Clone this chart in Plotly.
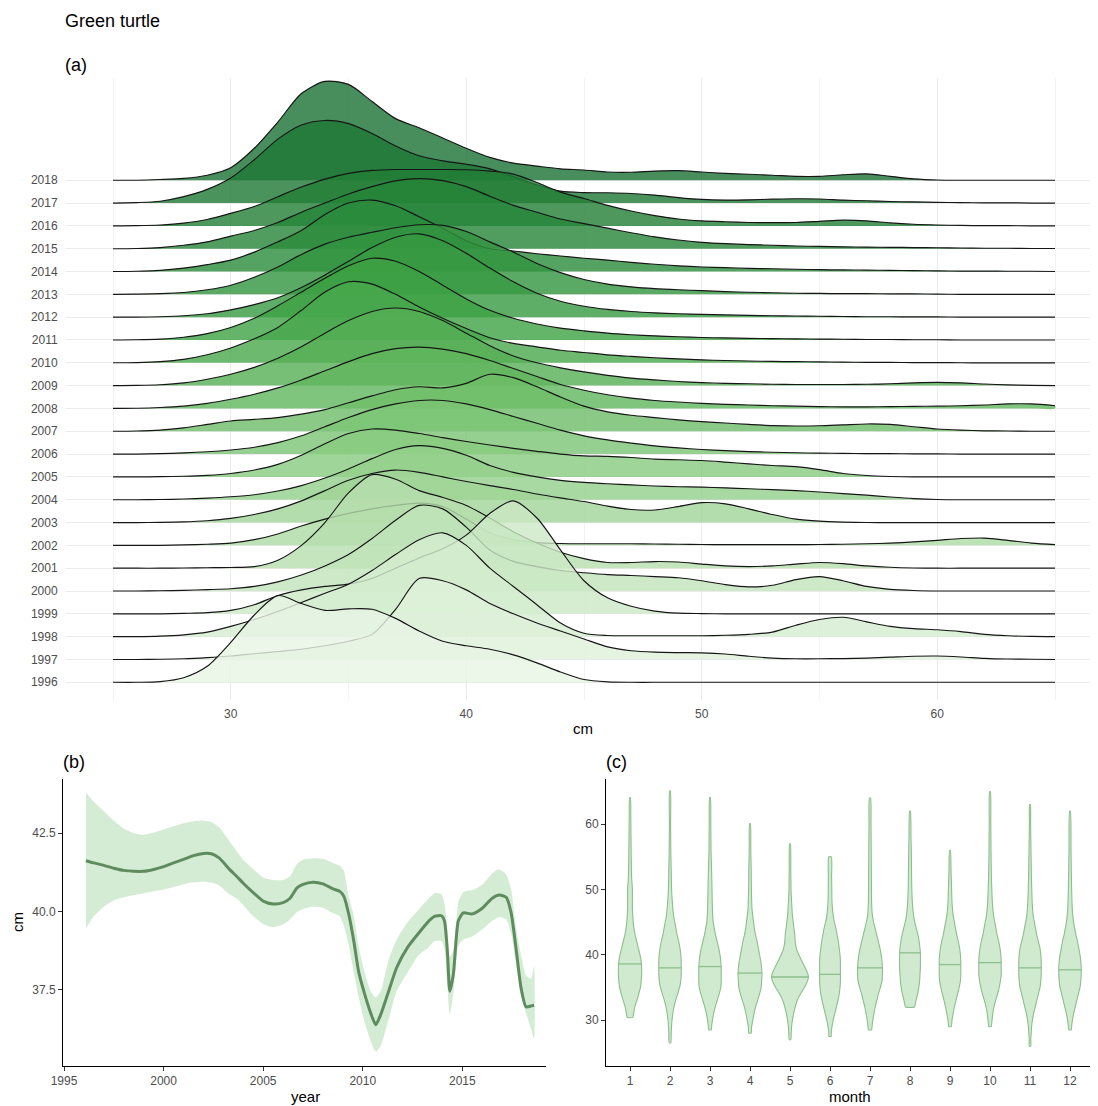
import numpy as np
import plotly.graph_objects as go

# ---------------- Panel (a): ridgeline heights (in row units) on a 1-cm grid ----------------
cm_grid = list(range(25, 66))
ridge_years = list(range(1996, 2019))

d1996 = [0,0,0.03,0.2,0.7,1.75,2.95,3.8,3.45,3.15,3.22,3.2,2.8,2.25,1.8,1.6,1.45,1.2,0.85,0.45,0.12,0.02,0,0,0,0,0,0,0,0,0,0,0,0,0,0,0,0,0,0,0]
d1997 = [0,0,0.01,0.03,0.08,0.15,0.25,0.35,0.45,0.6,0.8,1.1,2.2,3.55,3.45,3.05,2.45,2.0,1.6,1.25,0.9,0.55,0.38,0.32,0.3,0.29,0.24,0.14,0.06,0.03,0.03,0.04,0.06,0.1,0.14,0.15,0.11,0.05,0.02,0.01,0]
d1998 = [0,0,0.02,0.08,0.2,0.45,0.75,1.1,1.5,1.9,2.3,2.9,3.6,4.25,4.55,4.0,3.0,2.2,1.4,0.6,0.15,0.05,0.04,0.04,0.04,0.04,0.06,0.1,0.2,0.5,0.75,0.85,0.65,0.45,0.35,0.3,0.22,0.1,0.04,0.01,0]
d1999 = [0,0,0,0.02,0.05,0.15,0.4,0.8,1.05,1.2,1.3,1.55,2.0,2.45,2.85,3.45,4.4,4.95,4.2,2.8,1.45,0.7,0.33,0.12,0.03,0.01,0,0,0,0,0,0,0,0,0,0,0,0,0,0,0]
d2000 = [0,0,0.01,0.03,0.06,0.1,0.2,0.4,0.7,1.1,1.6,2.3,3.1,3.75,3.6,2.8,1.8,1.3,1.07,0.9,0.8,0.72,0.68,0.63,0.58,0.45,0.28,0.18,0.25,0.5,0.63,0.45,0.2,0.07,0.02,0,0,0,0,0,0]
d2001 = [0,0,0,0.01,0.02,0.03,0.07,0.35,1.0,2.0,3.3,4.1,3.9,3.4,3.1,2.75,2.2,1.6,1.1,0.7,0.42,0.25,0.25,0.29,0.27,0.18,0.1,0.07,0.1,0.18,0.25,0.2,0.1,0.04,0.01,0,0,0,0,0,0]
d2002 = [0,0,0,0.02,0.05,0.1,0.25,0.5,0.85,1.15,1.4,1.6,1.75,1.85,1.7,1.15,0.55,0.25,0.12,0.08,0.07,0.07,0.07,0.06,0.05,0.04,0.03,0.03,0.03,0.03,0.04,0.05,0.07,0.1,0.15,0.22,0.3,0.32,0.22,0.1,0.03]
d2003 = [0,0,0.01,0.03,0.08,0.18,0.35,0.6,0.95,1.4,1.85,2.15,2.3,2.2,2.0,1.8,1.62,1.45,1.25,1.08,0.92,0.72,0.57,0.55,0.7,0.87,0.82,0.6,0.35,0.15,0.06,0.02,0,0,0,0,0,0,0,0,0]
d2004 = [0,0,0.01,0.03,0.07,0.13,0.22,0.38,0.62,0.95,1.35,1.8,2.2,2.37,2.25,1.95,1.5,1.2,1.0,0.85,0.76,0.7,0.65,0.6,0.57,0.55,0.52,0.48,0.44,0.4,0.34,0.27,0.2,0.12,0.05,0.01,0,0,0,0,0]
d2005 = [0,0,0.01,0.03,0.07,0.15,0.3,0.55,0.95,1.45,1.9,2.1,2.05,1.9,1.72,1.55,1.4,1.25,1.12,1.0,0.92,0.9,0.85,0.78,0.75,0.72,0.65,0.57,0.5,0.45,0.32,0.15,0.06,0.02,0,0,0,0,0,0,0]
d2006 = [0,0,0.02,0.05,0.1,0.18,0.3,0.5,0.8,1.2,1.6,1.95,2.2,2.35,2.35,2.2,1.95,1.65,1.35,1.05,0.8,0.62,0.48,0.36,0.27,0.2,0.15,0.11,0.08,0.06,0.04,0.03,0.02,0.02,0.01,0.01,0,0,0,0,0]
d2007 = [0,0.01,0.05,0.15,0.3,0.45,0.52,0.6,0.75,0.95,1.25,1.55,1.82,1.95,1.9,2.1,2.5,2.35,1.95,1.5,1.1,0.85,0.7,0.6,0.5,0.42,0.36,0.3,0.25,0.23,0.24,0.28,0.32,0.3,0.2,0.1,0.05,0.02,0.01,0,0]
d2008 = [0,0.01,0.04,0.1,0.22,0.4,0.62,0.9,1.25,1.65,2.05,2.4,2.62,2.69,2.6,2.4,2.1,1.75,1.4,1.05,0.8,0.6,0.45,0.35,0.28,0.22,0.18,0.15,0.12,0.1,0.08,0.07,0.07,0.08,0.09,0.1,0.12,0.15,0.2,0.2,0.12]
d2009 = [0,0.01,0.04,0.12,0.28,0.5,0.8,1.2,1.7,2.3,2.85,3.25,3.4,3.25,2.85,2.3,1.75,1.3,1.0,0.78,0.6,0.45,0.33,0.25,0.18,0.13,0.1,0.08,0.06,0.05,0.05,0.05,0.06,0.08,0.12,0.14,0.12,0.07,0.03,0.01,0]
d2010 = [0,0.01,0.05,0.15,0.35,0.65,1.05,1.55,2.3,3.1,3.55,3.45,3.0,2.45,1.95,1.5,1.1,0.85,0.7,0.55,0.45,0.35,0.28,0.22,0.17,0.13,0.1,0.08,0.06,0.05,0.04,0.03,0.02,0.02,0.01,0.01,0,0,0,0,0]
d2011 = [0,0.01,0.04,0.12,0.28,0.55,0.95,1.5,2.1,2.7,3.25,3.58,3.45,3.0,2.4,1.8,1.3,0.95,0.7,0.52,0.4,0.3,0.23,0.18,0.14,0.11,0.09,0.07,0.06,0.05,0.04,0.03,0.02,0.02,0.01,0.01,0,0,0,0,0]
d2012 = [0,0,0.02,0.06,0.15,0.32,0.55,0.85,1.3,1.85,2.45,3.05,3.5,3.65,3.35,2.8,2.15,1.55,1.05,0.7,0.48,0.34,0.25,0.19,0.15,0.12,0.1,0.08,0.06,0.05,0.04,0.03,0.02,0.02,0.01,0.01,0,0,0,0,0]
d2013 = [0,0.01,0.03,0.08,0.2,0.4,0.75,1.2,1.75,2.2,2.5,2.72,2.92,3.05,3.02,2.75,2.3,1.85,1.35,0.95,0.65,0.45,0.33,0.25,0.2,0.16,0.12,0.09,0.07,0.05,0.04,0.03,0.03,0.02,0.02,0.01,0,0,0,0,0]
d2014 = [0,0.01,0.05,0.15,0.3,0.5,0.85,1.3,1.8,2.5,3.0,3.13,2.88,2.4,1.9,1.35,1.0,0.9,0.78,0.68,0.58,0.5,0.4,0.32,0.25,0.2,0.17,0.14,0.12,0.1,0.08,0.07,0.06,0.05,0.04,0.03,0.02,0.02,0.01,0.01,0]
d2015 = [0,0.01,0.05,0.15,0.3,0.55,0.8,1.15,1.6,2.0,2.4,2.72,2.97,3.07,2.98,2.72,2.3,1.9,1.6,1.3,1.1,0.9,0.7,0.52,0.38,0.28,0.22,0.18,0.15,0.12,0.1,0.08,0.07,0.06,0.05,0.04,0.03,0.02,0.02,0.01,0.01]
d2016 = [0,0.01,0.04,0.12,0.28,0.55,0.85,1.28,1.7,2.05,2.3,2.43,2.47,2.47,2.47,2.46,2.4,2.27,1.9,1.48,1.2,0.9,0.65,0.45,0.3,0.22,0.18,0.15,0.14,0.15,0.2,0.25,0.22,0.13,0.07,0.04,0.02,0.01,0.01,0,0]
d2017 = [0,0.02,0.08,0.28,0.6,1.1,1.9,2.8,3.42,3.62,3.48,3.05,2.5,2.07,1.85,1.7,1.5,1.15,0.8,0.52,0.46,0.45,0.42,0.35,0.24,0.16,0.13,0.14,0.17,0.19,0.18,0.13,0.1,0.07,0.05,0.03,0.02,0.01,0.01,0,0]
d2018 = [0,0,0.03,0.08,0.22,0.55,1.4,2.55,3.8,4.33,4.2,3.45,2.7,2.3,1.85,1.4,1.0,0.75,0.62,0.5,0.45,0.36,0.35,0.4,0.42,0.36,0.3,0.26,0.22,0.17,0.17,0.24,0.28,0.17,0.06,0.01,0,0,0,0,0]

ridge_data = [d1996, d1997, d1998, d1999, d2000, d2001, d2002, d2003, d2004, d2005, d2006,
              d2007, d2008, d2009, d2010, d2011, d2012, d2013, d2014, d2015, d2016, d2017, d2018]

# ---------------- Panel (b): smoothed mean size by year ----------------
gam_year = [1996.1,1996.5,1997.0,1997.5,1998.0,1998.5,1999.0,1999.5,2000.0,2000.5,2001.0,2001.5,2002.0,2002.4,
            2002.8,2003.3,2003.7,2004.0,2004.5,2005.0,2005.5,2006.0,2006.35,2006.7,2007.0,2007.5,2008.0,2008.5,
            2008.85,2009.05,2009.3,2009.55,2009.8,2010.1,2010.4,2010.65,2010.9,2011.3,2011.7,2012.25,2012.8,
            2013.3,2013.6,2013.95,2014.1,2014.25,2014.37,2014.55,2014.8,2015.05,2015.5,2016.0,2016.5,2016.85,
            2017.2,2017.45,2017.7,2017.95,2018.2,2018.45,2018.6]
gam_mean = [41.62,41.55,41.47,41.38,41.31,41.28,41.28,41.34,41.43,41.55,41.66,41.78,41.85,41.84,
            41.70,41.35,41.10,40.90,40.60,40.33,40.24,40.28,40.42,40.75,40.86,40.93,40.88,40.72,
            40.64,40.48,39.90,39.05,38.05,37.35,36.75,36.38,36.70,37.45,38.20,38.85,39.30,
            39.68,39.84,39.86,39.70,38.70,37.45,38.00,39.70,39.95,39.92,40.10,40.42,40.52,
            40.45,39.95,38.80,37.55,36.95,36.98,37.00]
gam_lo = [39.45,39.85,40.15,40.35,40.45,40.52,40.58,40.64,40.70,40.78,40.87,40.93,40.95,40.92,
          40.82,40.55,40.40,40.20,39.85,39.60,39.50,39.58,39.74,39.98,40.08,40.15,40.12,39.95,
          39.84,39.55,38.90,38.05,37.25,36.45,35.85,35.52,35.70,36.55,37.45,38.05,38.60,
          38.85,39.05,39.05,38.80,37.60,36.70,37.40,38.90,39.10,39.20,39.42,39.70,39.82,
          39.75,39.30,38.30,37.30,36.75,36.25,35.92]
gam_hi = [43.80,43.50,43.20,42.90,42.65,42.50,42.45,42.52,42.62,42.72,42.82,42.88,42.90,42.86,
          42.68,42.25,41.90,41.65,41.35,41.08,41.00,41.00,41.12,41.52,41.65,41.70,41.68,41.55,
          41.45,41.30,40.45,39.85,38.85,38.05,37.45,37.25,37.45,38.45,39.10,39.65,40.05,
          40.40,40.58,40.55,40.25,39.40,38.55,38.75,40.30,40.62,40.68,40.85,41.22,41.35,
          41.18,40.70,39.45,38.60,37.95,37.85,38.25]

# ---------------- Panel (c): violin profiles by month (cm, half-width in month units) ----------------
months = list(range(1, 13))
m1_cm = [30.4,31,32,33,34,35,36,37,38,39,40,41,42,43,44,45,46,47,48,50,52,55,58,61,64.1]
m1_hw = [0.07,0.09,0.12,0.17,0.22,0.26,0.28,0.29,0.29,0.28,0.25,0.21,0.17,0.13,0.1,0.08,0.07,0.06,0.06,0.06,0.04,0.03,0.025,0.02,0.01]
m2_cm = [26.5,28,30,32,33,34,35,36,37,38,39,40,41,42,43,44,45,46,48,50,53,56,60,65.1]
m2_hw = [0.02,0.03,0.05,0.1,0.14,0.19,0.24,0.27,0.28,0.28,0.28,0.27,0.25,0.22,0.18,0.15,0.12,0.09,0.06,0.04,0.03,0.02,0.015,0.01]
m3_cm = [28.5,29,30,31,32,33,34,35,36,37,38,39,40,41,42,43,44,45,47,50,53,56,60,64.1]
m3_hw = [0.03,0.04,0.06,0.09,0.13,0.18,0.23,0.27,0.28,0.28,0.28,0.27,0.25,0.22,0.18,0.14,0.11,0.08,0.06,0.05,0.04,0.025,0.02,0.01]
m4_cm = [28,29,30,31,32,33,34,35,36,37,38,39,40,41,42,43,44,45,47,50,53,56,60.1]
m4_hw = [0.03,0.04,0.07,0.1,0.14,0.19,0.24,0.28,0.29,0.3,0.29,0.27,0.24,0.21,0.18,0.14,0.11,0.09,0.05,0.035,0.03,0.02,0.01]
m5_cm = [27,28,29,30,31,32,33,34,35,36,36.6,37,38,39,40,41,42,43,44,45,46,47,48,50,53,57]
m5_hw = [0.02,0.03,0.04,0.06,0.09,0.13,0.18,0.26,0.36,0.44,0.46,0.45,0.38,0.3,0.22,0.16,0.13,0.12,0.1,0.08,0.06,0.05,0.04,0.025,0.02,0.01]
m6_cm = [27.5,28,29,30,31,32,33,34,35,36,37,38,39,40,41,42,43,44,45,46,48,50,52,55]
m6_hw = [0.03,0.03,0.05,0.08,0.12,0.16,0.2,0.23,0.25,0.26,0.26,0.26,0.26,0.25,0.23,0.21,0.18,0.15,0.11,0.08,0.05,0.045,0.04,0.035]
m7_cm = [28.5,29,30,31,32,33,34,35,36,37,38,39,40,41,42,43,44,45,46,48,52,56,60,64]
m7_hw = [0.04,0.05,0.07,0.1,0.13,0.17,0.21,0.26,0.3,0.31,0.31,0.3,0.28,0.25,0.21,0.17,0.13,0.09,0.06,0.04,0.035,0.03,0.025,0.015]
m8_cm = [32,33,34,35,36,37,38,39,40,41,42,43,44,45,46,48,50,52,55,58,62]
m8_hw = [0.11,0.15,0.19,0.22,0.24,0.25,0.26,0.26,0.26,0.25,0.23,0.2,0.16,0.12,0.09,0.06,0.045,0.04,0.035,0.025,0.01]
m9_cm = [29,30,31,32,33,34,35,36,37,38,39,40,41,42,43,44,45,46,48,50,53,56]
m9_hw = [0.03,0.05,0.08,0.11,0.15,0.19,0.23,0.26,0.27,0.27,0.27,0.26,0.24,0.21,0.17,0.14,0.11,0.08,0.05,0.04,0.025,0.01]
m10_cm = [29,30,31,32,33,34,35,36,37,38,39,40,41,42,43,44,45,46,48,52,56,60,65]
m10_hw = [0.03,0.05,0.07,0.1,0.14,0.19,0.23,0.26,0.28,0.28,0.28,0.27,0.25,0.22,0.18,0.15,0.12,0.09,0.06,0.035,0.025,0.02,0.01]
m11_cm = [26,27,28,29,30,31,32,33,34,35,36,37,38,39,40,41,42,43,44,45,46,48,52,56,60,63]
m11_hw = [0.02,0.02,0.03,0.04,0.06,0.09,0.13,0.17,0.21,0.25,0.27,0.28,0.28,0.28,0.27,0.25,0.21,0.17,0.14,0.11,0.08,0.055,0.035,0.025,0.015,0.01]
m12_cm = [28.5,29,30,31,32,33,34,35,36,37,38,39,40,41,42,43,44,45,46,48,52,56,62]
m12_hw = [0.03,0.04,0.06,0.09,0.13,0.17,0.21,0.25,0.27,0.28,0.28,0.27,0.25,0.22,0.19,0.15,0.12,0.09,0.07,0.05,0.035,0.025,0.01]
month_medians = [38.6, 38.0, 38.2, 37.2, 36.6, 37.0, 38.0, 40.3, 38.5, 38.8, 38.0, 37.7]

violin_cm = [m1_cm, m2_cm, m3_cm, m4_cm, m5_cm, m6_cm, m7_cm, m8_cm, m9_cm, m10_cm, m11_cm, m12_cm]
violin_hw = [m1_hw, m2_hw, m3_hw, m4_hw, m5_hw, m6_hw, m7_hw, m8_hw, m9_hw, m10_hw, m11_hw, m12_hw]

# ---------------- styling ----------------
PAGE_OFF = 8                      # browser body margin around the plot div
W, H = 1098 - PAGE_OFF, 1106 - PAGE_OFF
FONT = "Liberation Sans, Arial, Helvetica, sans-serif"
TICK_COL = "#4d4d4d"
ALPHA = 0.8
anchor_years = [1996, 1999, 2002, 2005, 2008, 2011, 2014, 2016, 2018]
anchor_rgb = [(236,246,233), (214,237,209), (188,226,181), (160,213,153), (128,197,125),
              (100,180,105), (85,163,98), (78,152,94), (72,142,92)]


def ridge_fill(year):
    out = []
    for k in range(3):
        disp = np.interp(year, anchor_years, [c[k] for c in anchor_rgb])
        base = (disp - 255 * (1 - ALPHA)) / ALPHA
        out.append(int(round(min(255, max(0, base)))))
    return f"rgba({out[0]},{out[1]},{out[2]},{ALPHA})"


def px_x(p):
    return (p - PAGE_OFF) / W


def px_y(p):
    return 1 - (p - PAGE_OFF) / H


fig = go.Figure()

# Panel (a) ridges, drawn from the top row down so lower rows overlap upper ones
for year, dens in sorted(zip(ridge_years, ridge_data), key=lambda t: -t[0]):
    base = ridge_years.index(year)
    top = [base + h for h in dens]
    fig.add_trace(go.Scatter(
        x=cm_grid + cm_grid[::-1], y=top + [base] * len(cm_grid),
        fill="toself", fillcolor=ridge_fill(year), mode="lines",
        line=dict(width=0, shape="spline", smoothing=0.8),
        hoverinfo="skip", xaxis="x", yaxis="y"))
    fig.add_trace(go.Scatter(
        x=cm_grid, y=top, mode="lines",
        line=dict(color="#161616", width=1.15, shape="spline", smoothing=0.8),
        hoverinfo="skip", xaxis="x", yaxis="y"))

# Panel (b) ribbon + smooth line
fig.add_trace(go.Scatter(
    x=gam_year + gam_year[::-1], y=gam_hi + gam_lo[::-1], fill="toself",
    fillcolor="rgba(120,196,120,0.32)", mode="lines",
    line=dict(width=0, shape="spline", smoothing=0.6), hoverinfo="skip",
    xaxis="x2", yaxis="y2"))
fig.add_trace(go.Scatter(
    x=gam_year, y=gam_mean, mode="lines",
    line=dict(color="#5e8c5e", width=3, shape="spline", smoothing=0.6),
    xaxis="x2", yaxis="y2"))

# Panel (c) violins
for m, cms, hws, med in zip(months, violin_cm, violin_hw, month_medians):
    xs = [m + w for w in hws] + [m - w for w in hws[::-1]]
    ys = cms + cms[::-1]
    fig.add_trace(go.Scatter(
        x=xs + [xs[0]], y=ys + [ys[0]], fill="toself",
        fillcolor="rgba(120,196,120,0.35)", mode="lines",
        line=dict(color="#8cbf8c", width=1.1, shape="spline", smoothing=0.5),
        hoverinfo="skip", xaxis="x3", yaxis="y3"))
    wm = float(np.interp(med, cms, hws))
    fig.add_trace(go.Scatter(
        x=[m - wm, m + wm], y=[med, med], mode="lines",
        line=dict(color="#8cbf8c", width=1.3), hoverinfo="skip",
        xaxis="x3", yaxis="y3"))

# ---------------- axes (pixel positions in the final page) ----------------
a_x0, a_x1, a_y0, a_y1 = 66, 1096, 78, 700
b_x0, b_x1 = 63, 546
c_x0, c_x1 = 606, 1094
bc_y0, bc_y1 = 779, 1066

tickfont = dict(family=FONT, size=12, color=TICK_COL)

fig.update_layout(
    width=W, height=H, showlegend=False,
    paper_bgcolor="white", plot_bgcolor="white",
    margin=dict(l=0, r=0, t=0, b=0, autoexpand=False),
    font=dict(family=FONT, color="black"),
    xaxis=dict(domain=[px_x(a_x0), px_x(a_x1)], range=[23.004, 66.74],
               tickmode="array", tickvals=[30, 40, 50, 60], ticktext=["30", "40", "50", "60"],
               showgrid=True, gridcolor="#ebebeb", gridwidth=1,
               minor=dict(tickvals=[25, 35, 45, 55, 65], showgrid=True, gridcolor="#f2f2f2", gridwidth=0.8),
               zeroline=False, showline=False, ticks="outside", ticklen=3, tickcolor="rgba(0,0,0,0)",
               tickfont=tickfont, anchor="y"),
    yaxis=dict(domain=[px_y(a_y1), px_y(a_y0)], range=[-0.776, 26.48],
               tickmode="array", tickvals=list(range(len(ridge_years))),
               ticktext=[str(y) for y in ridge_years],
               showgrid=True, gridcolor="#ebebeb", gridwidth=1, zeroline=False, showline=False,
               ticks="outside", ticklen=5, tickcolor="rgba(0,0,0,0)", tickfont=tickfont, anchor="x"),
    xaxis2=dict(domain=[px_x(b_x0), px_x(b_x1)], range=[1994.95, 2019.2],
                tickmode="array", tickvals=[1995, 2000, 2005, 2010, 2015],
                showgrid=False, zeroline=False, showline=True, linecolor="black", linewidth=1,
                ticks="outside", ticklen=4, tickcolor="#333333", tickfont=tickfont, anchor="y2"),
    yaxis2=dict(domain=[px_y(bc_y1), px_y(bc_y0)], range=[35.06, 44.23],
                tickmode="array", tickvals=[37.5, 40.0, 42.5], ticktext=["37.5", "40.0", "42.5"],
                showgrid=False, zeroline=False, showline=True, linecolor="black", linewidth=1,
                ticks="outside", ticklen=4, tickcolor="#333333", tickfont=tickfont, anchor="x2"),
    xaxis3=dict(domain=[px_x(c_x0), px_x(c_x1)], range=[0.4, 12.6],
                tickmode="array", tickvals=months, ticktext=[str(m) for m in months],
                showgrid=False, zeroline=False, showline=True, linecolor="black", linewidth=1,
                ticks="outside", ticklen=4, tickcolor="#333333", tickfont=tickfont, anchor="y3"),
    yaxis3=dict(domain=[px_y(bc_y1), px_y(bc_y0)], range=[22.96, 66.94],
                tickmode="array", tickvals=[30, 40, 50, 60],
                showgrid=False, zeroline=False, showline=True, linecolor="black", linewidth=1,
                ticks="outside", ticklen=4, tickcolor="#333333", tickfont=tickfont, anchor="x3"),
)


def label(text, xpx, ypx, size, xanchor="left", angle=0):
    fig.add_annotation(text=text, x=px_x(xpx), y=px_y(ypx), xref="paper", yref="paper",
                       xanchor=xanchor, yanchor="middle", showarrow=False, textangle=angle,
                       font=dict(family=FONT, size=size, color="black"))


label("Green turtle", 63, 21, 18)
label("(a)", 63, 65, 18)
label("(b)", 61, 762, 18)
label("(c)", 604, 762, 18)
label("cm", 583, 728, 15, xanchor="center")
label("year", 305, 1096, 15, xanchor="center")
label("month", 850, 1096, 15, xanchor="center")
label("cm", 17, 922, 15, xanchor="center", angle=-90)

fig.write_html("out.html")
